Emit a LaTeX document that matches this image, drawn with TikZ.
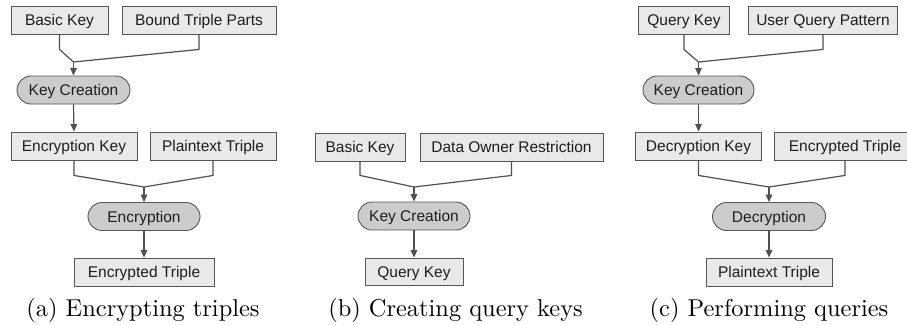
\documentclass[tikz,border=0pt]{standalone}
\usepackage{fontspec}
\newfontfamily\boxfont{Liberation Sans}
\newfontfamily\capfont{lmroman10-regular}[Extension=.otf]
\usetikzlibrary{arrows.meta}
\definecolor{boxfill}{RGB}{233,233,233}
\definecolor{pillfill}{RGB}{204,204,204}
\definecolor{boxline}{RGB}{85,85,85}
\definecolor{lin}{RGB}{80,80,80}
\definecolor{txt}{RGB}{30,30,30}
\begin{document}
\begin{tikzpicture}[x=1pt,y=-1pt,
  box/.style={draw=boxline, fill=boxfill, line width=0.9pt, minimum height=28pt, inner sep=0pt,
    font=\boxfont\fontsize{15.5}{18}\selectfont, text=txt, text height=11.1pt, text depth=0pt},
  pill/.style={box, fill=pillfill, rounded corners=14pt},
  conn/.style={draw=lin, line width=1.2pt},
  arr/.style={conn, -{Triangle[length=7.5pt,width=6.5pt]}},
  capt/.style={font=\capfont\fontsize{24.4}{28}\selectfont, anchor=base, inner sep=0pt}]
\useasboundingbox (0,0) rectangle (907,324);
\clip (0,0) rectangle (907,324);

% ---------- (a) ----------
\node[box, minimum width=97pt]  (a1) at (59.5,20) {Basic Key};
\node[box, minimum width=154pt] (a2) at (199,20) {Bound Triple Parts};
\node[pill, minimum width=113pt] (a3) at (73.5,90) {Key Creation};
\node[box, minimum width=126pt] (a4) at (74,146) {Encryption Key};
\node[box, minimum width=126pt] (a5) at (213,146) {Plaintext Triple};
\node[pill, minimum width=112pt] (a6) at (144,216.5) {Encryption};
\node[box, minimum width=140pt] (a7) at (144,272) {Encrypted Triple};
\coordinate (ma1) at (73.5,62);
\coordinate (ma2) at (144,187);
\draw[conn] (a1.south) -- ++(0,15) -- (ma1);
\draw[conn] (a2.south) -- ++(0,15) -- (ma1);
\draw[arr] (ma1) -- (a3.north);
\draw[arr] (a3.south) -- (a4.north);
\draw[conn] (a4.south) -- ++(0,15) -- (ma2);
\draw[conn] (a5.south) -- ++(0,15) -- (ma2);
\draw[arr] (ma2) -- (a6.north);
\draw[arr] (a6.south) -- (a7.north);
\node[capt] (ca) at (143,316) {(a) Encrypting triples};

% ---------- (b) ----------
\node[box, minimum width=90pt]  (b1) at (360,147) {Basic Key};
\node[box, minimum width=183pt] (b2) at (511.5,147) {Data Owner Restriction};
\node[pill, minimum width=112pt] (b3) at (414,216) {Key Creation};
\node[box, minimum width=98pt, minimum height=27pt] (b4) at (414,271.5) {Query Key};
\coordinate (mb1) at (414,187);
\draw[conn] (b1.south) -- ++(0,14) -- (mb1);
\draw[conn] (b2.south) -- ++(0,14) -- (mb1);
\draw[arr] (mb1) -- (b3.north);
\draw[arr] (b3.south) -- (b4.north);
\node[capt] (cb) at (455.5,316) {(b) Creating query keys};

% ---------- (c) ----------
\node[box, minimum width=91pt]  (c1) at (684,20) {Query Key};
\node[box, minimum width=149pt] (c2) at (823,20) {User Query Pattern};
\node[pill, minimum width=111pt] (c3) at (698.5,90) {Key Creation};
\node[box, minimum width=126pt] (c4) at (698.5,146) {Decryption Key};
\node[box, minimum width=142pt] (c5) at (845,146) {Encrypted Triple};
\node[pill, minimum width=113pt] (c6) at (769,216.5) {Decryption};
\node[box, minimum width=126pt] (c7) at (769,272) {Plaintext Triple};
\coordinate (mc1) at (698.5,62);
\coordinate (mc2) at (769,187);
\draw[conn] (c1.south) -- ++(0,15) -- (mc1);
\draw[conn] (c2.south) -- ++(0,15) -- (mc1);
\draw[arr] (mc1) -- (c3.north);
\draw[arr] (c3.south) -- (c4.north);
\draw[conn] (c4.south) -- ++(0,15) -- (mc2);
\draw[conn] (c5.south) -- ++(0,15) -- (mc2);
\draw[arr] (mc2) -- (c6.north);
\draw[arr] (c6.south) -- (c7.north);
\node[capt] (cc) at (769,316) {(c) Performing queries};
\end{tikzpicture}
\end{document}
